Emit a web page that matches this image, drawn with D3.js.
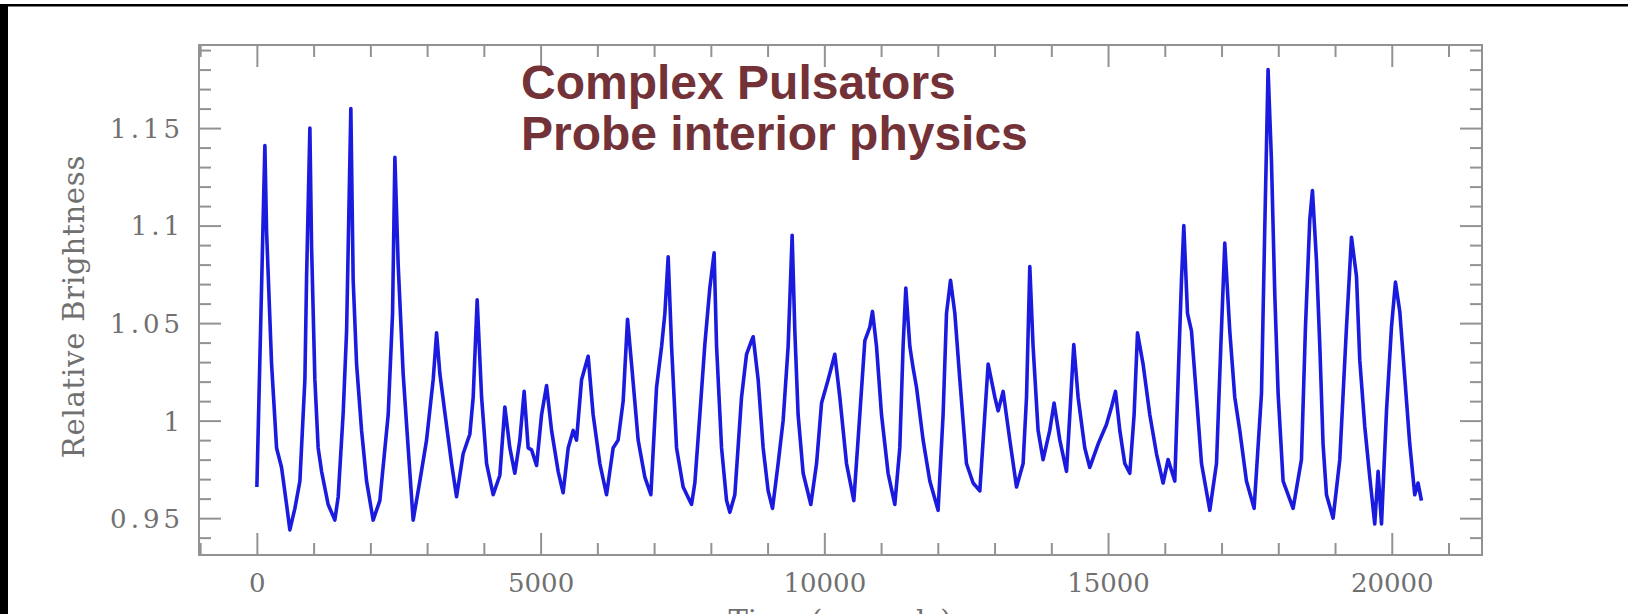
<!DOCTYPE html>
<html>
<head>
<meta charset="utf-8">
<script src="https://cdn.jsdelivr.net/npm/d3@7"></script>
<style>
  html, body { margin: 0; padding: 0; background: #fff; }
  svg { display: block; }
</style>
</head>
<body>
<div id="chart"></div>
<script>
// ---- data ----
const timeSec = [
  0, 141, 171, 259, 347, 435, 523, 581, 670, 758,
  846, 876, 934, 964, 1022, 1080, 1140, 1256, 1374, 1433,
  1521, 1581, 1656, 1697, 1757, 1845, 1933, 2049, 2167, 2314,
  2391, 2432, 2490, 2578, 2666, 2754, 2872, 2990, 3107, 3167,
  3225, 3313, 3431, 3519, 3635, 3753, 3812, 3882, 3960, 4048,
  4164, 4282, 4370, 4458, 4546, 4634, 4710, 4781, 4841, 4929,
  5017, 5105, 5193, 5309, 5397, 5486, 5574, 5633, 5722, 5838,
  5926, 6044, 6162, 6278, 6366, 6455, 6532, 6603, 6719, 6837,
  6943, 7043, 7132, 7190, 7248, 7308, 7396, 7512, 7660, 7718,
  7806, 7894, 7982, 8058, 8101, 8189, 8277, 8335, 8423, 8541,
  8629, 8717, 8746, 8834, 8922, 9010, 9087, 9186, 9274, 9362,
  9433, 9480, 9538, 9627, 9762, 9863, 9951, 10067, 10185, 10273,
  10391, 10520, 10625, 10714, 10802, 10849, 10920, 11008, 11124, 11242,
  11330, 11388, 11436, 11507, 11565, 11625, 11741, 11859, 12005, 12093,
  12153, 12224, 12300, 12388, 12505, 12622, 12740, 12828, 12887, 13005,
  13063, 13151, 13269, 13387, 13503, 13563, 13621, 13679, 13767, 13855,
  13973, 14049, 14150, 14268, 14326, 14396, 14472, 14590, 14678, 14825,
  14972, 15061, 15131, 15207, 15295, 15383, 15459, 15519, 15617, 15736,
  15854, 15970, 16058, 16176, 16235, 16294, 16335, 16400, 16470, 16559,
  16647, 16793, 16911, 16987, 17057, 17145, 17233, 17321, 17439, 17574,
  17704, 17762, 17820, 17880, 17938, 17997, 18085, 18261, 18408, 18479,
  18555, 18602, 18673, 18731, 18789, 18849, 18966, 19084, 19202, 19290,
  19378, 19436, 19524, 19612, 19700, 19759, 19819, 19907, 19995, 20065,
  20141, 20229, 20317, 20405, 20463, 20523
];
const brightness = [
  0.966, 1.141, 1.097, 1.029, 0.986, 0.976, 0.957, 0.944, 0.955, 0.969,
  1.021, 1.074, 1.150, 1.089, 1.021, 0.986, 0.974, 0.957, 0.949, 0.961,
  1.004, 1.046, 1.160, 1.072, 1.029, 0.995, 0.969, 0.949, 0.959, 1.003,
  1.055, 1.135, 1.080, 1.024, 0.986, 0.949, 0.969, 0.990, 1.021, 1.045,
  1.024, 1.004, 0.978, 0.961, 0.983, 0.993, 1.012, 1.062, 1.012, 0.978,
  0.962, 0.972, 1.007, 0.986, 0.973, 0.990, 1.015, 0.986, 0.985, 0.977,
  1.003, 1.018, 0.995, 0.974, 0.963, 0.986, 0.995, 0.990, 1.021, 1.033,
  1.003, 0.978, 0.962, 0.986, 0.990, 1.010, 1.052, 1.029, 0.990, 0.971,
  0.962, 1.017, 1.038, 1.055, 1.084, 1.038, 0.986, 0.966, 0.957, 0.968,
  1.003, 1.039, 1.068, 1.086, 1.038, 0.986, 0.959, 0.953, 0.962, 1.012,
  1.034, 1.041, 1.043, 1.021, 0.986, 0.964, 0.955, 0.978, 1.000, 1.038,
  1.095, 1.046, 1.003, 0.973, 0.957, 0.978, 1.009, 1.021, 1.034, 1.012,
  0.978, 0.959, 1.003, 1.041, 1.048, 1.056, 1.038, 1.003, 0.973, 0.957,
  0.986, 1.038, 1.068, 1.038, 1.027, 1.017, 0.990, 0.969, 0.954, 1.003,
  1.055, 1.072, 1.055, 1.021, 0.978, 0.968, 0.964, 1.003, 1.029, 1.012,
  1.005, 1.015, 0.990, 0.966, 0.978, 1.012, 1.079, 1.038, 0.995, 0.980,
  0.995, 1.009, 0.990, 0.974, 1.003, 1.039, 1.012, 0.986, 0.976, 0.988,
  0.998, 1.007, 1.015, 0.995, 0.978, 0.973, 1.003, 1.045, 1.029, 1.003,
  0.983, 0.968, 0.980, 0.969, 1.021, 1.072, 1.100, 1.055, 1.046, 1.012,
  0.978, 0.954, 0.978, 1.038, 1.091, 1.046, 1.012, 0.995, 0.969, 0.955,
  1.014, 1.099, 1.180, 1.133, 1.065, 1.014, 0.969, 0.955, 0.980, 1.048,
  1.103, 1.118, 1.082, 1.039, 0.988, 0.962, 0.950, 0.980, 1.048, 1.094,
  1.074, 1.031, 0.997, 0.971, 0.947, 0.974, 0.947, 1.005, 1.048, 1.071,
  1.056, 1.022, 0.988, 0.962, 0.968, 0.959
];
const xMajorTicks = [0, 5000, 10000, 15000, 20000];
const xTickLabels = ["0", "5000", "10000", "15000", "20000"];
const yMajorTicks = [0.95, 1.0, 1.05, 1.1, 1.15];
const yTickLabels = ["0.95", "1", "1.05", "1.1", "1.15"];
const titleLines = ["Complex Pulsators", "Probe interior physics"];
const xAxisTitle = "Time (seconds)";
const yAxisTitle = "Relative Brightness";

// ---- layout ----
const W = 1628, H = 614;
const L = 199, R = 1482, T = 45, B = 555;
const gridColor = "#929292";
const textColor = "#707070";

const svg = d3.select("#chart").append("svg")
  .attr("width", W).attr("height", H);

svg.append("rect").attr("width", W).attr("height", H).attr("fill", "#fff");

// black page border (top line + left bar)
svg.append("rect").attr("x", 0).attr("y", 4).attr("width", W).attr("height", 2.5).attr("fill", "#000");
svg.append("rect").attr("x", 0).attr("y", 4).attr("width", 8).attr("height", H - 4).attr("fill", "#000");

const x = d3.scaleLinear().domain([-1020, 21590]).range([L, R]);
const y = d3.scaleLinear().domain([0.9311, 1.1926]).range([B, T]);

const xMinor = d3.range(-1000, 21001, 1000).filter(v => v % 5000 !== 0);
const yMinor = d3.range(94, 120, 1).map(v => v / 100).filter(v => Math.round(v * 100) % 5 !== 0);

function styleAxis(g) {
  g.select(".domain").remove();
  g.selectAll(".tick line").attr("stroke", gridColor).attr("stroke-width", 2);
}

// bottom
svg.append("g").attr("transform", `translate(0,${B})`)
  .call(d3.axisBottom(x).tickValues(xMinor).tickSize(-12).tickFormat(""))
  .call(styleAxis);
const xb = svg.append("g").attr("transform", `translate(0,${B})`)
  .call(d3.axisBottom(x).tickValues(xMajorTicks).tickSize(-22).tickPadding(19)
    .tickFormat((d, i) => xTickLabels[i]))
  .call(styleAxis);
xb.selectAll(".tick text")
  .attr("fill", textColor)
  .style("font-family", "'DejaVu Serif', serif")
  .style("font-size", "26px");

// top
svg.append("g").attr("transform", `translate(0,${T})`)
  .call(d3.axisTop(x).tickValues(xMinor).tickSize(-12).tickFormat(""))
  .call(styleAxis);
svg.append("g").attr("transform", `translate(0,${T})`)
  .call(d3.axisTop(x).tickValues(xMajorTicks).tickSize(-22).tickFormat(""))
  .call(styleAxis);

// left
svg.append("g").attr("transform", `translate(${L},0)`)
  .call(d3.axisLeft(y).tickValues(yMinor).tickSize(-12).tickFormat(""))
  .call(styleAxis);
const yl = svg.append("g").attr("transform", `translate(${L},0)`)
  .call(d3.axisLeft(y).tickValues(yMajorTicks).tickSize(-22).tickPadding(15)
    .tickFormat((d, i) => yTickLabels[i]))
  .call(styleAxis);
yl.selectAll(".tick text")
  .attr("fill", textColor)
  .attr("dy", "0.36em")
  .style("font-family", "'DejaVu Serif', serif")
  .style("font-size", "26px")
  .style("letter-spacing", "4px");

// right
svg.append("g").attr("transform", `translate(${R},0)`)
  .call(d3.axisRight(y).tickValues(yMinor).tickSize(-12).tickFormat(""))
  .call(styleAxis);
svg.append("g").attr("transform", `translate(${R},0)`)
  .call(d3.axisRight(y).tickValues(yMajorTicks).tickSize(-22).tickFormat(""))
  .call(styleAxis);

// frame
svg.append("rect").attr("x", L).attr("y", T).attr("width", R - L).attr("height", B - T)
  .attr("fill", "none").attr("stroke", gridColor).attr("stroke-width", 2);

// light curve
const pts = timeSec.map((t, i) => [t, brightness[i]]);
svg.append("path")
  .datum(pts)
  .attr("fill", "none")
  .attr("stroke", "#1b1be0")
  .attr("stroke-width", 3.6)
  .attr("stroke-linejoin", "round")
  .attr("d", d3.line().x(d => x(d[0])).y(d => y(d[1])));

// axis titles
svg.append("text")
  .attr("transform", `translate(84,${(156 + 457) / 2}) rotate(-90)`)
  .attr("text-anchor", "middle")
  .attr("fill", textColor)
  .style("font-family", "'DejaVu Serif', serif")
  .style("font-size", "29px")
  .style("letter-spacing", "0.8px")
  .text(yAxisTitle);

svg.append("text")
  .attr("x", 840).attr("y", 631)
  .attr("text-anchor", "middle")
  .attr("fill", textColor)
  .style("font-family", "'DejaVu Serif', serif")
  .style("font-size", "29px")
  .text(xAxisTitle);

// overlay title
svg.append("g").selectAll("text")
  .data(titleLines).join("text")
  .attr("x", 521)
  .attr("y", (d, i) => 99 + i * 51)
  .attr("fill", "#733237")
  .style("font-family", "'Liberation Sans', Arial, sans-serif")
  .style("font-weight", "bold")
  .style("font-size", "48px")
  .text(d => d);
</script>
</body>
</html>
